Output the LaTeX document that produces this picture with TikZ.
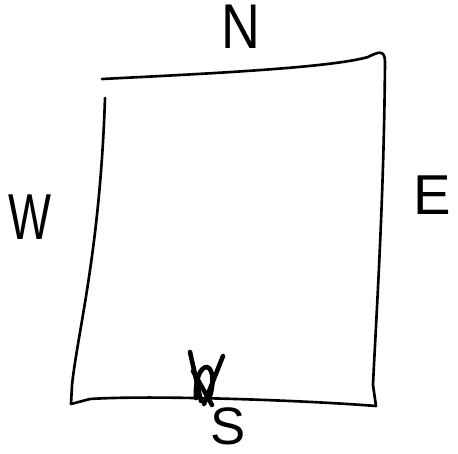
\documentclass[tikz,border=0pt]{standalone}
\usepackage{fontspec}
\setmainfont{Liberation Sans}
\usepackage{tikz}
\usetikzlibrary{calc}

\begin{document}
\begin{tikzpicture}[x=0.02cm, y=-0.02cm, line cap=round, line join=round,
		edge/.style={line width=1.5pt},
		scribble/.style={line width=2.6pt},
		compass/.style={inner sep=0pt, anchor=center}]
				\useasboundingbox (0,0) rectangle (458,454);
				% corners of the sketched box
				\coordinate (nw) at (102,79);
				\coordinate (ne) at (383,52);
				\coordinate (se) at (376,406);
				\coordinate (sw) at (71,404);
				\coordinate (wtop) at (105,98);
				\draw[edge] (nw) .. controls (200,74) and (330,68) .. (368,57) .. controls (378,52) and (385,49) .. (385,62);
				\draw[edge] (385,62) .. controls (384,200) and (376,320) .. (373,385) -- (se);
				\draw[edge] (se) .. controls (300,400) and (150,395) .. (90,399) -- (sw);
				\draw[edge] (sw) -- (72,385) .. controls (78,330) and (100,250) .. (wtop);
				% labels
				\node[compass, font=\fontsize{36}{36}\selectfont] (n) at (241,27) {\scalebox{0.85}[1]{N}};
				\node[compass, font=\fontsize{32}{32}\selectfont] (e) at (432,195) {E};
				\node[compass, font=\fontsize{37}{37}\selectfont] (w) at (30,217) {\scalebox{0.7}[1]{W}};
				\node[compass, font=\fontsize{30}{30}\selectfont] (s) at (228,426) {S};
				% crossed-out mark on the bottom edge
				\draw[scribble] (190,352) -- (201,401);
				\draw[scribble] (223,356) -- (204,404);
				\draw[scribble] (196,398) .. controls (195,380) and (200,367) .. (207,367) .. controls (214,369) and (214,386) .. (209,399);
				\draw[scribble] (193,371) -- (212,405);
\end{tikzpicture}
\end{document}
